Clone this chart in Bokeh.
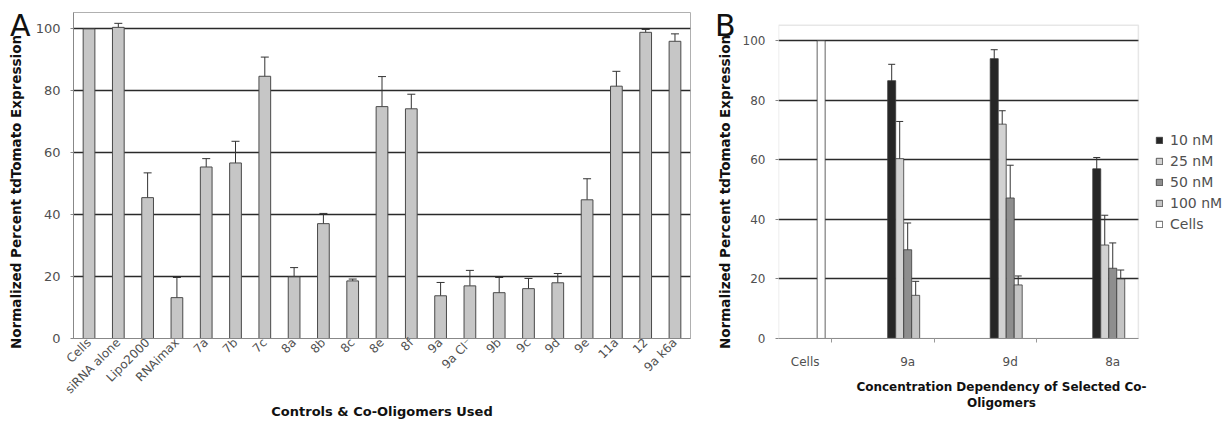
import math
from bokeh.plotting import figure
from bokeh.models import (ColumnDataSource, Whisker, TeeHead, FixedTicker, LinearAxis,
                          Legend, LegendItem, Range1d, BoxAnnotation)
from bokeh.layouts import row
from bokeh.embed import file_html
from bokeh.resources import INLINE
from bokeh.transform import dodge

# ---------------- Panel A data ----------------
a_labels = ["Cells", "siRNA alone", "Lipo2000", "RNAimax", "7a", "7b", "7c", "8a", "8b",
            "8c", "8e", "8f", "9a", "9a Cl\u207b", "9b", "9c", "9d", "9e", "11a", "12", "9a k6a"]
a_values = [100, 100.5, 45.5, 13.2, 55.4, 56.7, 84.7, 19.9, 37.1, 18.6, 74.9, 74.2,
            13.8, 17.0, 14.8, 16.1, 18.0, 44.8, 81.5, 98.9, 96.0]
a_errors = [0, 1.3, 8.0, 6.5, 2.7, 7.0, 6.2, 3.0, 3.3, 0.6, 9.7, 4.7,
            4.3, 5.0, 4.9, 3.3, 3.0, 6.8, 4.8, 0.9, 2.4]

# ---------------- Panel B data ----------------
b_groups = ["Cells", "9a", "9d", "8a"]
b_series = ["10 nM", "25 nM", "50 nM", "100 nM", "Cells"]
nan = float("nan")
b_10 = [nan, 86.6, 94.0, 57.0]
b_25 = [nan, 60.4, 72.0, 31.4]
b_50 = [nan, 29.8, 47.2, 23.6]
b_100 = [nan, 14.5, 18.0, 20.0]
b_cells = [100, nan, nan, nan]
e_10 = [nan, 5.5, 3.0, 3.8]
e_25 = [nan, 12.5, 4.5, 10.0]
e_50 = [nan, 9.0, 11.0, 8.5]
e_100 = [nan, 4.7, 3.0, 3.0]
b_colors = ["#262626", "#d2d2d2", "#8e8e8e", "#c4c4c4", "#ffffff"]

panel_letters = ["A", "B"]
y_title = "Normalized Percent tdTomato Expression"

FONT = "DejaVu Sans"
GRID = "#2a2a2a"
FRAME = "#b0b0b0"
NBSP = "\u00a0" * 7


def style(p, tick_size, title_size):
    p.background_fill_color = "white"
    p.border_fill_color = "white"
    p.outline_line_color = FRAME
    p.outline_line_width = 1
    p.xgrid.grid_line_color = None
    p.ygrid.grid_line_color = GRID
    p.ygrid.grid_line_width = 1.4
    p.yaxis.ticker = FixedTicker(ticks=[0, 20, 40, 60, 80, 100])
    for ax in (p.xaxis[0], p.yaxis[0]):
        ax.axis_line_color = "#888888"
        ax.major_tick_line_color = "#888888"
        ax.major_tick_in = 0
        ax.major_tick_out = 3
        ax.minor_tick_line_color = None
        ax.major_label_text_font = FONT
        ax.major_label_text_font_size = tick_size
        ax.major_label_text_color = "#505050"
        ax.axis_label_text_font = FONT
        ax.axis_label_text_font_size = title_size
        ax.axis_label_text_font_style = "bold"
        ax.axis_label_text_color = "#111111"


def letter_axis(p, letter, at, standoff):
    ax = LinearAxis(ticker=FixedTicker(ticks=[at]), major_label_overrides={at: letter},
                    axis_line_color=None, major_tick_line_color=None,
                    minor_tick_line_color=None, major_tick_in=0, major_tick_out=0,
                    major_label_standoff=standoff, major_label_text_font=FONT,
                    major_label_text_font_size="30px", major_label_text_color="#111111")
    p.add_layout(ax, "left")


# ---------------- Panel A ----------------
a_x = list(range(len(a_labels)))
src_a = ColumnDataSource(dict(x=a_x, top=a_values))

pa = figure(width=708, height=422, output_backend="svg", toolbar_location=None,
            x_range=Range1d(-0.53, 20.53), y_range=Range1d(0, 105.3),
            min_border_left=73, min_border_right=18, min_border_top=12, min_border_bottom=84)
style(pa, "12px", "13px")
pa.yaxis.major_label_text_font_size = "13px"
pa.yaxis.axis_label_text_font_size = "13.5px"
pa.yaxis.major_label_standoff = 10
pa.vbar(x="x", top="top", width=0.4, source=src_a, fill_color="#c6c6c6",
        line_color="#4a4a4a", line_width=1)
err_a = ColumnDataSource(dict(
    x=[x for x, e in zip(a_x, a_errors) if e > 0],
    upper=[v + e for v, e in zip(a_values, a_errors) if e > 0],
    lower=[v - e for v, e in zip(a_values, a_errors) if e > 0]))
pa.add_layout(Whisker(base="x", upper="upper", lower="lower", source=err_a,
                      line_color="#333333", line_width=1,
                      upper_head=TeeHead(size=8, line_color="#333333", line_width=1),
                      lower_head=TeeHead(size=8, line_color="#333333", line_width=1)))
pa.xaxis.ticker = FixedTicker(ticks=a_x)
pa.xaxis.major_label_overrides = {i: lab for i, lab in enumerate(a_labels)}
pa.xaxis.major_label_orientation = math.pi / 4
pa.xaxis.major_tick_out = 0
pa.xaxis.major_label_standoff = 2
pa.xaxis.axis_label = "Controls & Co-Oligomers Used"
pa.xaxis.axis_label_standoff = 0
pa.yaxis.axis_label = y_title + NBSP
pa.yaxis.axis_label_standoff = 9
letter_axis(pa, panel_letters[0], 101, -26)

# ---------------- Panel B ----------------
b_x = list(range(len(b_groups)))
src_b = ColumnDataSource(dict(x=b_x, s0=b_10, s1=b_25, s2=b_50, s3=b_100, s4=b_cells,
                              u0=[v + e for v, e in zip(b_10, e_10)],
                              l0=[v - e for v, e in zip(b_10, e_10)],
                              u1=[v + e for v, e in zip(b_25, e_25)],
                              l1=[v - e for v, e in zip(b_25, e_25)],
                              u2=[v + e for v, e in zip(b_50, e_50)],
                              l2=[v - e for v, e in zip(b_50, e_50)],
                              u3=[v + e for v, e in zip(b_100, e_100)],
                              l3=[v - e for v, e in zip(b_100, e_100)]))

XB = (-0.26, 3.25)   # plotted category span of panel B
pb = figure(width=516, height=422, output_backend="svg", toolbar_location=None,
            x_range=Range1d(-0.26, 4.09), y_range=Range1d(0, 109.5),
            min_border_left=70, min_border_right=0, min_border_top=12, min_border_bottom=84)
style(pb, "12px", "12px")
pb.yaxis.axis_label_text_font_size = "13.5px"
pb.yaxis.major_label_standoff = 10
pb.outline_line_color = None
pb.yaxis.axis_line_color = None
pb.ygrid.cross_bounds = XB
pb.xaxis.bounds = XB
pb.add_layout(BoxAnnotation(left=XB[0], right=XB[1], bottom=0, top=105.2,
                            fill_alpha=0, line_color=FRAME, line_width=1.5))
pb.xaxis.ticker = FixedTicker(ticks=b_x, minor_ticks=[0.26, 1.26, 2.26])
pb.xaxis.minor_tick_line_color = "#999999"
pb.xaxis.minor_tick_in = 0
pb.xaxis.minor_tick_out = 4
pb.xaxis.major_label_overrides = {i: lab for i, lab in enumerate(b_groups)}
pb.xaxis.major_tick_out = 0
pb.xaxis.major_label_standoff = 12
pb.xaxis.axis_label = "Concentration Dependency of Selected Co-\nOligomers"
pb.xaxis.axis_label_standoff = 8
pb.yaxis.axis_label = y_title + NBSP
pb.yaxis.axis_label_standoff = 7
letter_axis(pb, panel_letters[1], 105, -22)

bw = 0.078
offsets = [-2 * bw, -bw, 0, bw, 2 * bw]
items = []
for i, name in enumerate(b_series):
    r = pb.vbar(x=dodge("x", offsets[i]), top="s%d" % i, width=bw, source=src_b,
                fill_color=b_colors[i], line_color="#3a3a3a", line_width=0.8)
    items.append(LegendItem(label=name, renderers=[r]))
    if i < 4:
        pb.add_layout(Whisker(base=dodge("x", offsets[i]), upper="u%d" % i, lower="l%d" % i,
                              source=src_b, line_color="#333333", line_width=1,
                              upper_head=TeeHead(size=7, line_color="#333333", line_width=1),
                              lower_head=TeeHead(size=7, line_color="#333333", line_width=1)))

legend = Legend(items=items, location=(377, 106), orientation="vertical",
                border_line_color=None, background_fill_alpha=0,
                label_text_font=FONT, label_text_font_size="14px",
                label_text_color="#505050", glyph_width=8, glyph_height=8,
                label_height=16, spacing=5, padding=0, margin=0, label_standoff=7)
pb.add_layout(legend, "center")

layout = row(pa, pb)
open("out.html", "w").write(file_html(layout, INLINE))
